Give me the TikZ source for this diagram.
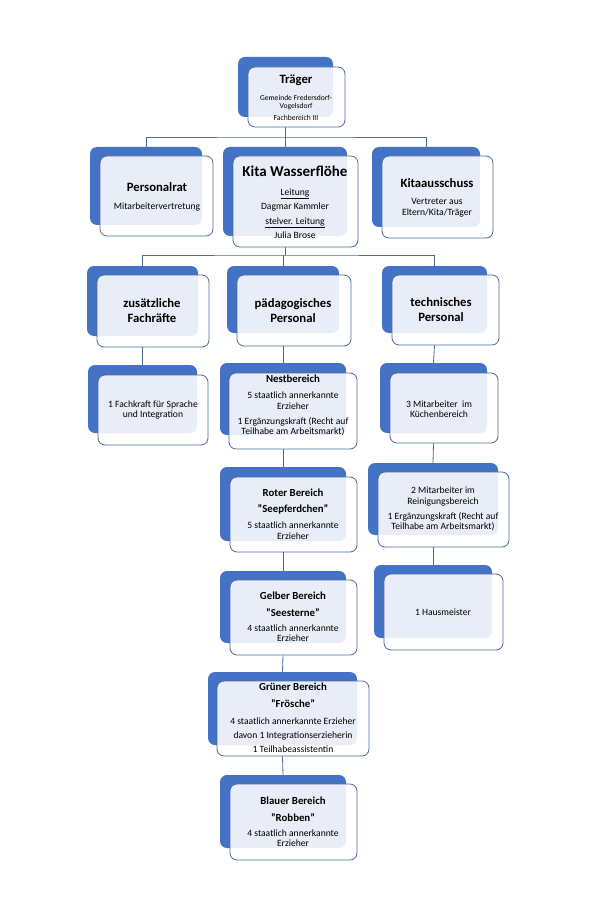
\documentclass[tikz,border=0pt]{standalone}
\usepackage{fontspec}
\setmainfont{Carlito}
\usepackage{tikz}
\definecolor{kblue}{HTML}{4472C4}
\definecolor{kline}{HTML}{4A6A9A}
\tikzset{
  back/.style={fill=kblue, rounded corners=7pt, inner sep=0pt},
  front/.style={draw=kline, line width=0.8pt, fill=white, fill opacity=0.88, rounded corners=7pt, inner sep=0pt},
  conn/.style={draw=kline, line width=0.8pt},
  head/.style={font=\bfseries\fontsize{12.7}{15}\selectfont, align=center},
  kopf/.style={font=\bfseries\fontsize{10.8}{16.5}\selectfont, align=center},
  body/.style={font=\fontsize{9.6}{10.5}\selectfont, align=center},
  tiny/.style={font=\fontsize{7.6}{8.5}\selectfont, align=center}
}

\begin{document}
\begin{tikzpicture}[x=1pt, y=-1pt]
      \useasboundingbox[fill=white] (0,0) rectangle (592,901);
      % obere Ebene
      \node[back, minimum width=95pt, minimum height=60pt] (trB) at (285.5,87) {};
      \node[front, minimum width=97pt, minimum height=60pt] (trF) at (296.5,97) {};
      \node[head] (trT) at (296,80) {Träger};
      \node[tiny] (trX) at (296,108) {Gemeinde Fredersdorf-\\Vogelsdorf\\[3.5pt]Fachbereich III};

      \node[back, minimum width=112pt, minimum height=78pt] (prB) at (146,186) {};
      \node[front, minimum width=113pt, minimum height=80pt] (prF) at (156.5,196) {};
      \node[head] (prT) at (157,187) {Personalrat};
      \node[body] (prX) at (157,207) {Mitarbeitervertretung};

      \node[back, minimum width=124pt, minimum height=89pt] (kiB) at (285,191.5) {};
      \node[front, minimum width=125pt, minimum height=91pt] (kiF) at (295.5,201.5) {};
      \node[font=\bfseries\fontsize{15}{18}\selectfont] (kiT) at (295,171) {Kita Wasserflöhe};
      \node[body] (kiX) at (295,213.5) {\underline{Leitung}\\[3.5pt]Dagmar Kammler\\[4pt]\underline{stelver. Leitung}\\[3.5pt]Julia Brose};

      \node[back, minimum width=108pt, minimum height=80pt] (kaB) at (426,187) {};
      \node[front, minimum width=111pt, minimum height=82pt] (kaF) at (437.5,197) {};
      \node[head] (kaT) at (437,183) {Kitaausschuss};
      \node[body] (kaX) at (437,207.5) {Vertreter aus\\Eltern/Kita/Träger};

      \coordinate (j1) at (285.5,137);
      \draw[conn] (trB.center |- trF.south) -- (j1);
      \draw[conn] (prB.north) |- (j1) -| (kaB.north);
      \draw[conn] (kiB.north) -- (kiB.north |- j1);

      % Personalgruppen
      \node[back, minimum width=111pt, minimum height=70pt] (zuB) at (142.5,301) {};
      \node[front, minimum width=112pt, minimum height=72pt] (zuF) at (153,311) {};
      \node[head] (zuT) at (152,310.5) {zusätzliche\\Fachräfte};

      \node[back, minimum width=112pt, minimum height=67pt] (paB) at (283,299.5) {};
      \node[front, minimum width=114pt, minimum height=71pt] (paF) at (294,310.5) {};
      \node[head] (paT) at (293,310.5) {pädagogisches\\Personal};

      \node[back, minimum width=105pt, minimum height=67pt] (teB) at (434.5,299.5) {};
      \node[front, minimum width=107pt, minimum height=70pt] (teF) at (445.5,310) {};
      \node[head] (teT) at (441,310) {technisches\\Personal};

      \coordinate (j2) at (285,255);
      \draw[conn] (kiB.center |- kiF.south) -- (j2);
      \draw[conn] (zuB.north) |- (j2) -| (teB.north);
      \draw[conn] (paB.north) -- (paB.north |- j2);

      % zusätzliche Fachkräfte
      \node[back, minimum width=109pt, minimum height=68pt] (fkB) at (142.5,399) {};
      \node[front, minimum width=110pt, minimum height=70pt] (fkF) at (153,410) {};
      \node[body] (fkX) at (153,410) {1 Fachkraft für Sprache\\und Integration};
      \draw[conn] (zuB.center |- zuF.south) -- (fkB.north);

      % pädagogisches Personal
      \node[back, minimum width=126pt, minimum height=72pt] (neB) at (283,399) {};
      \node[front, minimum width=128pt, minimum height=76pt] (neF) at (293,411) {};
      \node[kopf] (neT) at (293,379) {Nestbereich};
      \node[body] (neX) at (293,414) {5 staatlich annerkannte\\Erzieher\\[4.5pt]1 Ergänzungskraft (Recht auf\\Teilhabe am Arbeitsmarkt)};
      \draw[conn] (paB.center |- paF.south) -- (neB.north);

      \node[back, minimum width=126pt, minimum height=74pt] (roB) at (283,504) {};
      \node[front, minimum width=127pt, minimum height=75pt] (roF) at (293.5,514.5) {};
      \node[kopf] (roT) at (293,501.5) {Roter Bereich\\"Seepferdchen"};
      \node[body] (roX) at (293,530.5) {5 staatlich annerkannte\\Erzieher};
      \draw[conn] (neB.center |- neF.south) -- (roB.north);

      \node[back, minimum width=126pt, minimum height=72pt] (geB) at (283,607) {};
      \node[front, minimum width=127pt, minimum height=75pt] (geF) at (293.5,617.5) {};
      \node[kopf] (geT) at (293,604) {Gelber Bereich\\"Seesterne"};
      \node[body] (geX) at (293,633) {4 staatlich annerkannte\\Erzieher};
      \draw[conn] (roB.center |- roF.south) -- (geB.north);

      \node[back, minimum width=149pt, minimum height=73pt] (grB) at (282.5,708.5) {};
      \node[front, minimum width=152pt, minimum height=75pt] (grF) at (293,718.5) {};
      \node[kopf] (grT) at (293,695) {Grüner Bereich\\"Frösche"};
      \node[body] (grX) at (293,735) {4 staatlich annerkannte Erzieher\\[3.5pt]davon 1 Integrationserzieherin\\[3.5pt]1 Teilhabeassistentin};
      \draw[conn] (geB.center |- geF.south) -- (grB.north);

      \node[back, minimum width=126pt, minimum height=73pt] (blB) at (283,811.5) {};
      \node[front, minimum width=127pt, minimum height=76pt] (blF) at (293.5,822) {};
      \node[kopf] (blT) at (293,809) {Blauer Bereich\\"Robben"};
      \node[body] (blX) at (293,838) {4 staatlich annerkannte\\Erzieher};
      \draw[conn] (grB.center |- grF.south) -- (blB.north);

      % technisches Personal
      \node[back, minimum width=107pt, minimum height=70pt] (kuB) at (433.5,398) {};
      \node[front, minimum width=108pt, minimum height=70pt] (kuF) at (444,408) {};
      \node[body] (kuX) at (439,409) {3 Mitarbeiter~ im\\Küchenbereich};
      \draw[conn] (teB.center |- teF.south) -- (kuB.north);

      \node[back, minimum width=130pt, minimum height=72pt] (reB) at (433,499) {};
      \node[front, minimum width=131pt, minimum height=75pt] (reF) at (443.5,509.5) {};
      \node[body] (reX) at (443,509) {2 Mitarbeiter im\\Reinigungsbereich\\[4.5pt]1 Ergänzungskraft (Recht auf\\Teilhabe am Arbeitsmarkt)};
      \draw[conn] (kuB.center |- kuF.south) -- (reB.north);

      \node[back, minimum width=118pt, minimum height=73pt] (haB) at (433,601.5) {};
      \node[front, minimum width=119pt, minimum height=76pt] (haF) at (443.5,612) {};
      \node[body] (haX) at (443,612) {1 Hausmeister};
      \draw[conn] (reB.center |- reF.south) -- (haB.north);
    \end{tikzpicture}
\end{document}
